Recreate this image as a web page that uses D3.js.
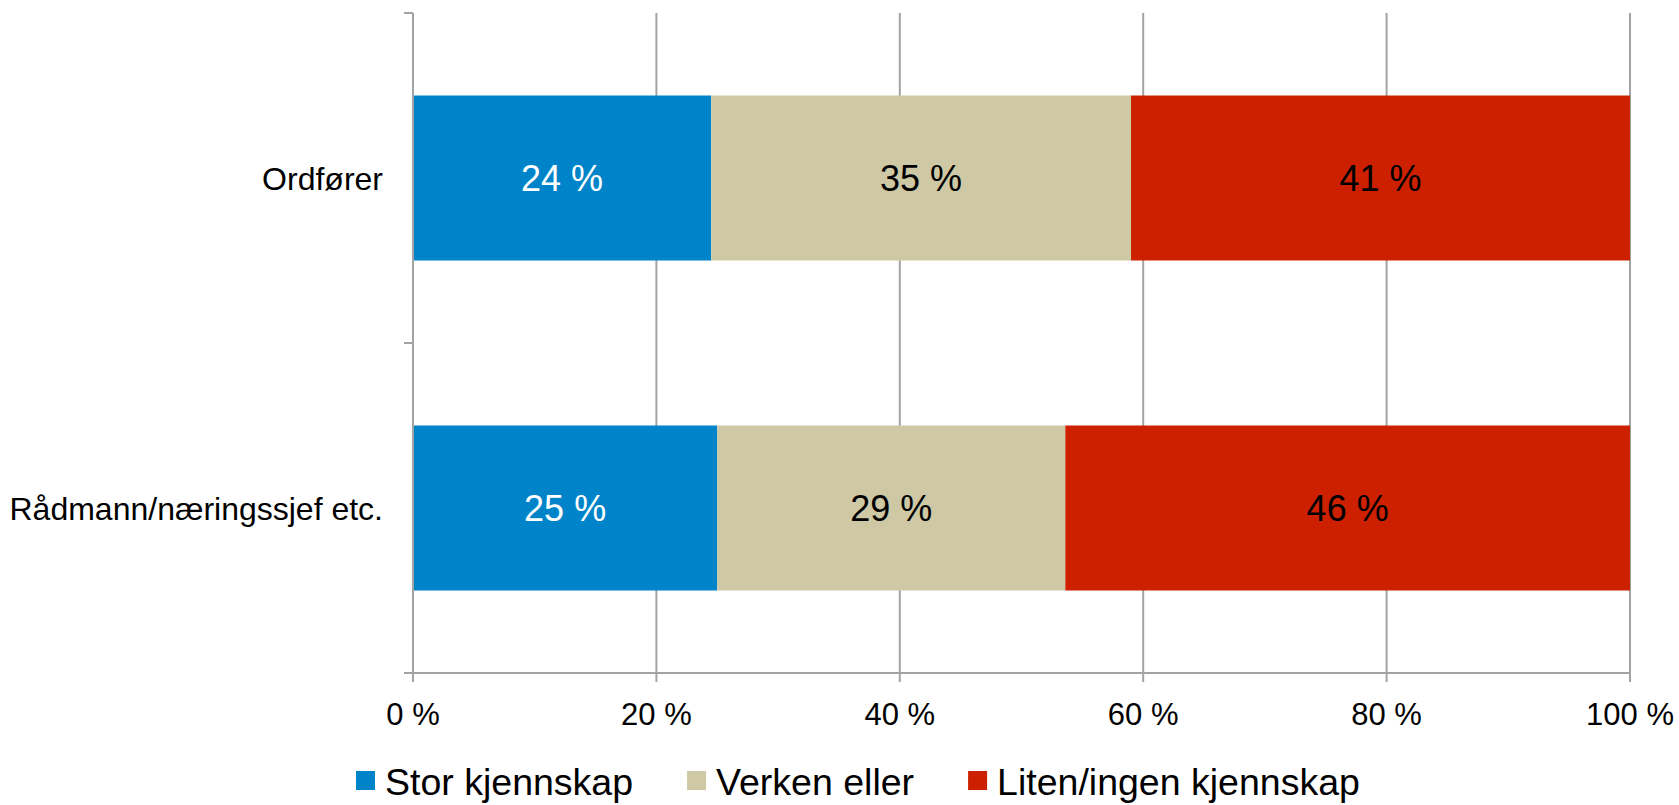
<!DOCTYPE html>
<html>
<head>
<meta charset="utf-8">
<script src="https://cdn.jsdelivr.net/npm/d3@7"></script>
<style>
  body { margin: 0; background: #fff; }
  text { font-family: "Liberation Sans", Arial, sans-serif; }
</style>
</head>
<body>
<svg id="chart"></svg>
<script>
const categories = ["Ordfører", "Rådmann/næringssjef etc."];
const seriesNames = ["Stor kjennskap", "Verken eller", "Liten/ingen kjennskap"];
const stor = [24.5, 25.0];
const verken = [34.5, 28.6];
const liten = [41.0, 46.4];
const labels = [["24 %", "35 %", "41 %"], ["25 %", "29 %", "46 %"]];
const xTicks = [0, 20, 40, 60, 80, 100];
const colors = ["#0084C9", "#CEC8A5", "#CC2000"];
const labelColors = ["#fff", "#000", "#000"];

const width = 1679, height = 805;
const margin = {top: 13, right: 49, bottom: 132, left: 413};

const svg = d3.select("#chart").attr("width", width).attr("height", height);

const x = d3.scaleLinear().domain([0, 100]).range([margin.left, width - margin.right]);
const y = d3.scaleBand().domain(categories).range([margin.top, height - margin.bottom])
  .paddingInner(0.5).paddingOuter(0.25);

// build stacked rows
const rows = categories.map((c, i) => {
  let vals = [stor[i], verken[i], liten[i]];
  let acc = 0;
  return vals.map((v, j) => {
    let seg = {cat: c, s: j, x0: acc, x1: acc + v, label: labels[i][j]};
    acc += v;
    return seg;
  });
});

// gridlines
svg.append("g").selectAll("line")
  .data(xTicks.slice(1))
  .enter().append("line")
    .attr("x1", d => x(d)).attr("x2", d => x(d))
    .attr("y1", margin.top).attr("y2", height - margin.bottom)
    .attr("stroke", "#a3a3a3").attr("stroke-width", 2);

// bars
const segs = rows.flat();
svg.append("g").selectAll("rect")
  .data(segs)
  .enter().append("rect")
    .attr("x", d => x(d.x0))
    .attr("width", d => x(d.x1) - x(d.x0))
    .attr("y", d => y(d.cat))
    .attr("height", y.bandwidth())
    .attr("fill", d => colors[d.s]);

svg.append("g").selectAll("text")
  .data(segs)
  .enter().append("text")
    .attr("x", d => x((d.x0 + d.x1) / 2))
    .attr("y", d => y(d.cat) + y.bandwidth() / 2)
    .attr("dy", "0.36em")
    .attr("text-anchor", "middle")
    .attr("font-size", 36)
    .attr("fill", d => labelColors[d.s])
    .text(d => d.label);

// y axis
const yAxis = svg.append("g");
yAxis.append("line")
  .attr("x1", x(0)).attr("x2", x(0))
  .attr("y1", margin.top).attr("y2", height - margin.bottom + 9)
  .attr("stroke", "#a3a3a3").attr("stroke-width", 2);
const yTickPos = [margin.top, (margin.top + height - margin.bottom) / 2, height - margin.bottom];
yAxis.selectAll(".yt").data(yTickPos).enter().append("line")
  .attr("x1", x(0) - 9).attr("x2", x(0))
  .attr("y1", d => d).attr("y2", d => d)
  .attr("stroke", "#a3a3a3").attr("stroke-width", 2);
yAxis.selectAll("text").data(categories).enter().append("text")
  .attr("x", x(0) - 30)
  .attr("y", d => y(d) + y.bandwidth() / 2)
  .attr("dy", "0.36em")
  .attr("text-anchor", "end")
  .attr("font-size", 32)
  .attr("fill", "#000")
  .text(d => d);

// x axis
const xAxis = svg.append("g");
xAxis.append("line")
  .attr("x1", x(0) - 9).attr("x2", x(100))
  .attr("y1", height - margin.bottom).attr("y2", height - margin.bottom)
  .attr("stroke", "#a3a3a3").attr("stroke-width", 2);
xAxis.selectAll(".xt").data(xTicks).enter().append("line")
  .attr("x1", d => x(d)).attr("x2", d => x(d))
  .attr("y1", height - margin.bottom).attr("y2", height - margin.bottom + 9)
  .attr("stroke", "#a3a3a3").attr("stroke-width", 2);
xAxis.selectAll("text").data(xTicks).enter().append("text")
  .attr("x", d => x(d))
  .attr("y", 725)
  .attr("text-anchor", "middle")
  .attr("font-size", 31)
  .attr("fill", "#000")
  .text(d => d + " %");

// legend
const legend = svg.append("g").attr("transform", "translate(356,771)");
let lx = 0;
seriesNames.forEach((name, i) => {
  const g = legend.append("g").attr("transform", `translate(${lx},0)`);
  g.append("rect").attr("width", 19).attr("height", 19).attr("fill", colors[i]);
  const t = g.append("text")
    .attr("x", 29).attr("y", 24)
    .attr("font-size", 37.5)
    .attr("fill", "#000")
    .text(name);
  lx += 29 + t.node().getComputedTextLength() + 54;
});
</script>
</body>
</html>
